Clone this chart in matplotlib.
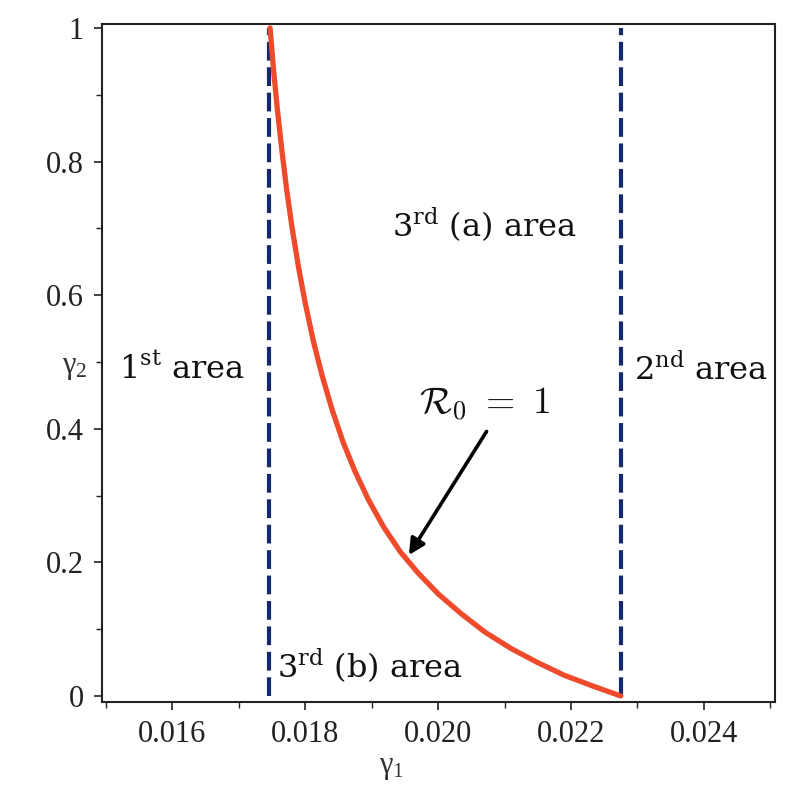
import matplotlib
matplotlib.use("Agg")
import matplotlib.pyplot as plt
from matplotlib.ticker import MultipleLocator, FixedLocator

# Data
curve_x = [0.01747, 0.01752, 0.01758, 0.01765, 0.01772, 0.01780, 0.01790, 0.01800,
           0.01812, 0.01825, 0.01840, 0.01857, 0.01875, 0.01895, 0.01918, 0.01943,
           0.01970, 0.02000, 0.02035, 0.02070, 0.02110, 0.02150, 0.02190, 0.02230,
           0.02275]
curve_y = [1.000, 0.940, 0.878, 0.815, 0.758, 0.702, 0.641, 0.588,
           0.532, 0.481, 0.430, 0.380, 0.336, 0.294, 0.253, 0.216,
           0.184, 0.153, 0.123, 0.096, 0.071, 0.050, 0.031, 0.016,
           0.0]
vline_x = [0.01745, 0.02275]
xticks = [0.016, 0.018, 0.020, 0.022, 0.024]
xtick_labels = ["0.016", "0.018", "0.020", "0.022", "0.024"]
yticks = [0, 0.2, 0.4, 0.6, 0.8, 1.0]
ytick_labels = ["0", "0.2", "0.4", "0.6", "0.8", "1"]

plt.rcParams['font.family'] = ['Liberation Serif', 'DejaVu Serif']
plt.rcParams['mathtext.fontset'] = 'custom'
plt.rcParams['mathtext.rm'] = 'Liberation Serif'

fig = plt.figure(figsize=(7.86, 7.91), dpi=100)
ax = fig.add_axes([0.1298, 0.1125, 0.856, 0.8572])

navy = '#13296b'
red = '#ee4a2b'
for xv in vline_x:
    ax.plot([xv, xv], [0, 1], color=navy, lw=3.0, dashes=(4.5, 1.6), solid_capstyle='butt', zorder=2)
ax.plot(curve_x, curve_y, color=red, lw=3.8, zorder=3, solid_capstyle='round', solid_joinstyle='round')

ax.set_xlim(0.01494, 0.02507)
ax.set_ylim(-0.009, 1.006)

ax.xaxis.set_major_locator(FixedLocator(xticks))
ax.set_xticklabels(xtick_labels)
ax.xaxis.set_minor_locator(FixedLocator([0.015, 0.017, 0.019, 0.021, 0.023, 0.025]))
ax.yaxis.set_major_locator(FixedLocator(yticks))
ax.set_yticklabels(ytick_labels)
ax.yaxis.set_minor_locator(MultipleLocator(0.1))
ax.tick_params(which='major', direction='out', length=6, width=1.2, labelsize=22, color='#222222', labelcolor='#222222', pad=7)
ax.tick_params(which='minor', direction='out', length=4, width=1.0, color='#222222')
for s in ax.spines.values():
    s.set_linewidth(1.5)
    s.set_color('#222222')

fig.text(75/786, 1-368/791, r'$\mathregular{\gamma_2}$', fontsize=22, ha='center', va='center', color='#333333')
fig.text(392/786, 1-768/791, r'$\mathregular{\gamma_1}$', fontsize=22, ha='center', va='center', color='#333333')

tfont = dict(family=['DejaVu Serif'], fontsize=23, color='#111111', va='center')
ax.text(0.02070, 0.705, r'3$^{\mathregular{rd}}$ (a) area', ha='center', **tfont)
ax.text(0.01614, 0.488, r'1$^{\mathregular{st}}$ area', ha='center', **tfont)
ax.text(0.02396, 0.488, r'2$^{\mathregular{nd}}$ area', ha='center', **tfont)
ax.text(0.01897, 0.045, r'3$^{\mathregular{rd}}$ (b) area', ha='center', **tfont)

ax.text(0.02070, 0.436, r'$\mathcal{R}_0\ =\ 1$', fontsize=27, ha='center', va='center', math_fontfamily='cm', color='#111111')
ax.annotate('', xy=(0.01956, 0.211), xytext=(0.02073, 0.396),
            arrowprops=dict(arrowstyle='-|>', color='black', lw=2.6, mutation_scale=24, shrinkA=0, shrinkB=0))

fig.savefig('out.png', dpi=100)
